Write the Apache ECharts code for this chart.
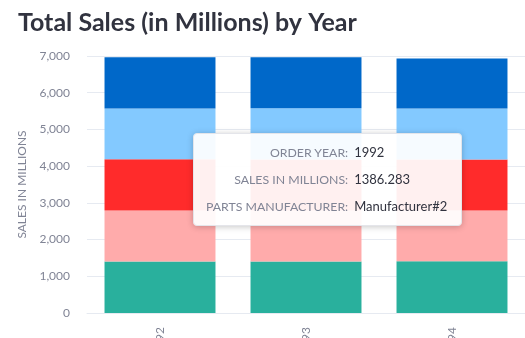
<!DOCTYPE html>
<html>
<head>
<meta charset="utf-8">
<script src="https://cdn.jsdelivr.net/npm/echarts@6/dist/echarts.min.js"></script>
<style>
  html, body { margin: 0; padding: 0; background: #fff; }
  #chart { width: 525px; height: 338px; }
</style>
</head>
<body>
<div id="chart"></div>
<script>
// Order years on the x axis
const years = ['1992', '1993', '1994'];

// Manufacturers, listed bottom of the stack first
const manufacturers = ['Manufacturer#5', 'Manufacturer#4', 'Manufacturer#3', 'Manufacturer#2', 'Manufacturer#1'];
const colors = ['#29b09d', '#ffabab', '#ff2b2b', '#83c9ff', '#0068c9'];

// Sales in millions per manufacturer, one value per year
const salesM5 = [1405.0, 1400.0, 1412.0];
const salesM4 = [1390.0, 1392.0, 1380.0];
const salesM3 = [1390.0, 1388.0, 1387.0];
const salesM2 = [1386.283, 1395.0, 1388.0];
const salesM1 = [1398.0, 1390.0, 1368.0];
const salesBySeries = [salesM5, salesM4, salesM3, salesM2, salesM1];

// Value axis ticks
const yMax = 7000;
const yStep = 1000;

const FONT = 'Lato, "Noto Sans", sans-serif';
const chart = echarts.init(document.getElementById('chart'), null, { renderer: 'canvas' });

chart.setOption({
  animation: false,
  title: {
    text: 'Total Sales (in Millions) by Year',
    left: 13, top: 5,
    textStyle: { fontFamily: FONT, fontSize: 25, fontWeight: 'bold', color: '#31333f' }
  },
  grid: { left: 87, right: 0, top: 56, bottom: 25, containLabel: false, outerBoundsMode: 'none' },
  tooltip: {
    trigger: 'item',
    triggerOn: 'none',
    alwaysShowContent: true,
    transitionDuration: 0,
    position: [193, 133],
    backgroundColor: 'rgba(255,255,255,0.93)',
    borderColor: '#e4e5ea',
    borderWidth: 1,
    padding: [5, 14, 5, 12],
    extraCssText: 'border-radius:4px;box-shadow:0 1px 6px rgba(0,0,0,0.22);',
    formatter: function (p) {
      const row = (k, v) =>
        '<tr><td style="text-align:right;color:#808495;font-size:12.3px;padding:3px 6px 3px 0;">' + k +
        '</td><td style="color:#31333f;font-size:13px;padding:3px 0;">' + v + '</td></tr>';
      return '<table style="border-collapse:collapse;font-family:' + FONT.replace(/"/g, "'") +
        ';line-height:21px;">' +
        row('ORDER YEAR:', p.name) +
        row('SALES IN MILLIONS:', p.value) +
        row('PARTS MANUFACTURER:', p.seriesName) +
        '</table>';
    }
  },
  xAxis: {
    type: 'category',
    data: years,
    axisLine: { lineStyle: { color: '#e6eaf1' } },
    axisTick: { show: false },
    axisLabel: { rotate: 90, margin: 14, color: '#808495', fontFamily: FONT, fontSize: 12 }
  },
  yAxis: {
    type: 'value',
    min: 0, max: yMax, interval: yStep,
    name: 'SALES IN MILLIONS',
    nameLocation: 'middle',
    nameRotate: 90,
    nameGap: 58,
    nameTextStyle: { color: '#808495', fontFamily: FONT, fontSize: 12 },
    axisLine: { show: false },
    axisTick: { show: false },
    axisLabel: {
      margin: 17, color: '#808495', fontFamily: FONT, fontSize: 12,
      formatter: v => v.toLocaleString('en-US')
    },
    splitLine: { lineStyle: { color: '#e6eaf1' } }
  },
  series: manufacturers.map((name, i) => ({
    name: name,
    type: 'bar',
    stack: 'sales',
    barCategoryGap: '24%',
    data: salesBySeries[i],
    itemStyle: { color: colors[i] },
    emphasis: { disabled: true }
  }))
});

// Pin the tooltip on Manufacturer#2 for 1992
chart.dispatchAction({ type: 'showTip', seriesIndex: 3, dataIndex: 0 });
</script>
</body>
</html>
